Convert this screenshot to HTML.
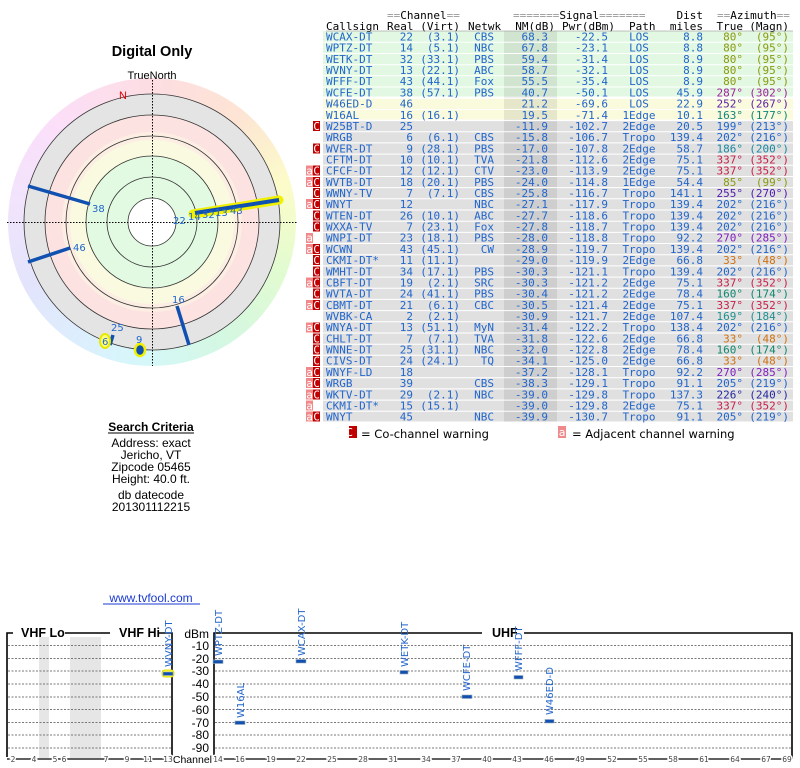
<!DOCTYPE html>
<html><head><meta charset="utf-8"><style>
html,body{margin:0;padding:0;background:#fff;width:800px;height:768px;overflow:hidden;position:relative}
#rim{position:absolute;left:8px;top:78px;width:288px;height:288px;border-radius:50%;
background:conic-gradient(from 0deg,hsl(350,90%,93%),hsl(25,90%,91%) 40deg,hsl(60,90%,89%) 75deg,hsl(95,85%,90%) 110deg,hsl(145,70%,90%) 150deg,hsl(185,80%,91%) 185deg,hsl(210,90%,93%) 215deg,hsl(240,80%,94%) 245deg,hsl(275,80%,94%) 280deg,hsl(305,80%,93%) 315deg,hsl(350,90%,93%) 360deg)}
svg{position:absolute;left:0;top:0}
.m{font-family:"DejaVu Sans Mono","Liberation Mono",monospace;font-size:11px;fill:#2266cc}
.s{font-family:"Liberation Sans",sans-serif}
.t{font-family:"DejaVu Sans",sans-serif;font-size:10px;fill:#2266cc}
.k{font-family:"DejaVu Sans",sans-serif;font-size:7.5px;fill:#444}
</style></head><body>
<div id="rim"></div>
<svg width="800" height="768" xmlns="http://www.w3.org/2000/svg">
<!-- polar -->
<circle cx="152" cy="222" r="128" fill="#e4e4e4"/>
<circle cx="152" cy="222" r="107" fill="#fde2e2"/>
<circle cx="152" cy="222" r="90" fill="#fdeee4"/>
<circle cx="152" cy="222" r="82" fill="#fafae0"/>
<circle cx="152" cy="222" r="66" fill="#e2fae2"/>
<circle cx="152" cy="222" r="24" fill="#fff"/>
<g fill="none" stroke="#333" stroke-width="0.8">
<circle cx="152" cy="222" r="128"/><circle cx="152" cy="222" r="107"/><circle cx="152" cy="222" r="86"/>
<circle cx="152" cy="222" r="66"/><circle cx="152" cy="222" r="45"/><circle cx="152" cy="222" r="24"/>
</g>
<g stroke="#000" stroke-width="1" stroke-dasharray="1.5,1.5">
<line x1="7" y1="222.5" x2="297" y2="222.5"/><line x1="152.5" y1="80" x2="152.5" y2="366"/>
</g>
<text x="152" y="56" text-anchor="middle" class="s" font-size="14.5" font-weight="bold">Digital Only</text>
<text x="152" y="79" text-anchor="middle" class="s" font-size="11">TrueNorth</text>
<text x="123" y="99" text-anchor="middle" class="s" font-size="11" fill="#d00">N</text>
<g stroke="#1050b0" stroke-width="3.5">
<line x1="28" y1="186" x2="90" y2="204"/>
<line x1="28" y1="262" x2="70" y2="248"/>
<line x1="177" y1="306" x2="189" y2="345"/>
<line x1="113" y1="335" x2="110" y2="345"/>
</g>
<line x1="193" y1="214" x2="279" y2="200" stroke="#f0f000" stroke-width="9" stroke-linecap="round"/>
<line x1="195" y1="213" x2="279" y2="200" stroke="#1050b0" stroke-width="4"/>
<ellipse cx="105" cy="341" rx="5" ry="7" fill="#ffff80" stroke="#e8e800" stroke-width="2"/>
<ellipse cx="140" cy="350" rx="5" ry="6" fill="#1050b0" stroke="#f0f000" stroke-width="2.5"/>
<g class="t" font-size="11">
<text x="92" y="212">38</text><text x="73" y="251">46</text><text x="172" y="303">16</text>
<text x="111" y="331">25</text><text x="102" y="345">6</text><text x="136" y="343">9</text>
<text x="173" y="224">22</text><text x="188" y="220">14</text><text x="202" y="218">32</text>
<text x="215" y="216">13</text><text x="230" y="214">43</text>
</g>
<!-- search criteria -->
<g class="s" font-size="12" text-anchor="middle">
<text x="151" y="431" font-weight="bold">Search Criteria</text>
<line x1="108" y1="433" x2="194" y2="433" stroke="#000" stroke-width="1"/>
<text x="151" y="425" dy="0" display="none"></text>
<text x="151" y="447">Address: exact</text>
<text x="151" y="459">Jericho, VT</text>
<text x="151" y="471">Zipcode 05465</text>
<text x="151" y="483">Height: 40.0 ft.</text>
<text x="151" y="499">db datecode</text>
<text x="151" y="511">201301112215</text>
<text x="151" y="602" fill="#1a3ad0">www.tvfool.com</text>
<line x1="103" y1="604" x2="200" y2="604" stroke="#1a3ad0" stroke-width="1"/>
</g>
<!-- table backgrounds -->
<g>
<rect x="323" y="31" width="470" height="65.5" fill="#e2f8e2"/>
<rect x="323" y="98" width="470" height="21.5" fill="#fafadc"/>
<rect x="323" y="120.5" width="470" height="301" fill="#e0e0e0"/>
<rect x="504" y="31" width="53" height="390.5" fill="rgba(0,0,0,0.08)"/>
<g stroke="#fff" stroke-width="1">
<line x1="323" y1="42.3" x2="793" y2="42.3"/><line x1="323" y1="53.5" x2="793" y2="53.5"/><line x1="323" y1="64.7" x2="793" y2="64.7"/><line x1="323" y1="75.8" x2="793" y2="75.8"/><line x1="323" y1="87" x2="793" y2="87"/><line x1="323" y1="98.2" x2="793" y2="98.2"/><line x1="323" y1="109.4" x2="793" y2="109.4"/><line x1="323" y1="120.6" x2="793" y2="120.6"/><line x1="323" y1="131.7" x2="793" y2="131.7"/><line x1="323" y1="142.9" x2="793" y2="142.9"/><line x1="323" y1="154.1" x2="793" y2="154.1"/><line x1="323" y1="165.3" x2="793" y2="165.3"/><line x1="323" y1="176.5" x2="793" y2="176.5"/><line x1="323" y1="187.6" x2="793" y2="187.6"/><line x1="323" y1="198.8" x2="793" y2="198.8"/><line x1="323" y1="210" x2="793" y2="210"/><line x1="323" y1="221.2" x2="793" y2="221.2"/><line x1="323" y1="232.4" x2="793" y2="232.4"/><line x1="323" y1="243.5" x2="793" y2="243.5"/><line x1="323" y1="254.7" x2="793" y2="254.7"/><line x1="323" y1="265.9" x2="793" y2="265.9"/><line x1="323" y1="277.1" x2="793" y2="277.1"/><line x1="323" y1="288.3" x2="793" y2="288.3"/><line x1="323" y1="299.4" x2="793" y2="299.4"/><line x1="323" y1="310.6" x2="793" y2="310.6"/><line x1="323" y1="321.8" x2="793" y2="321.8"/><line x1="323" y1="333" x2="793" y2="333"/><line x1="323" y1="344.2" x2="793" y2="344.2"/><line x1="323" y1="355.3" x2="793" y2="355.3"/><line x1="323" y1="366.5" x2="793" y2="366.5"/><line x1="323" y1="377.7" x2="793" y2="377.7"/><line x1="323" y1="388.9" x2="793" y2="388.9"/><line x1="323" y1="400.1" x2="793" y2="400.1"/><line x1="323" y1="411.2" x2="793" y2="411.2"/>
</g>
</g>
<!-- headers -->
<g class="m" fill="#000" style="fill:#000">
<text x="387" y="19" fill="#aaa" style="fill:#999">==<tspan style="fill:#000">Channel</tspan>==</text>
<text x="513" y="19" style="fill:#999">=======<tspan style="fill:#000">Signal</tspan>=======</text>
<text x="703" y="19" text-anchor="end">Dist</text>
<text x="717" y="19" style="fill:#999">==<tspan style="fill:#000">Azimuth</tspan>==</text>
<text x="326" y="30">Callsign</text><text x="387" y="30">Real</text><text x="460" y="30" text-anchor="end">(Virt)</text>
<text x="468" y="30">Netwk</text><text x="555" y="30" text-anchor="end">NM(dB)</text><text x="615" y="30" text-anchor="end">Pwr(dBm)</text>
<text x="629" y="30">Path</text><text x="703" y="30" text-anchor="end">miles</text><text x="743" y="30" text-anchor="end">True</text><text x="789" y="30" text-anchor="end">(Magn)</text>
</g>
<line x1="326" y1="31" x2="793" y2="31" stroke="#888" stroke-width="0.6"/>
<!-- columns -->
<text class="m"><tspan x="326" y="40.5">WCAX-DT</tspan><tspan x="326" y="51.7">WPTZ-DT</tspan><tspan x="326" y="62.9">WETK-DT</tspan><tspan x="326" y="74">WVNY-DT</tspan><tspan x="326" y="85.2">WFFF-DT</tspan><tspan x="326" y="96.4">WCFE-DT</tspan><tspan x="326" y="107.6">W46ED-D</tspan><tspan x="326" y="118.8">W16AL</tspan><tspan x="326" y="129.9">W25BT-D</tspan><tspan x="326" y="141.1">WRGB</tspan><tspan x="326" y="152.3">WVER-DT</tspan><tspan x="326" y="163.5">CFTM-DT</tspan><tspan x="326" y="174.7">CFCF-DT</tspan><tspan x="326" y="185.8">WVTB-DT</tspan><tspan x="326" y="197">WWNY-TV</tspan><tspan x="326" y="208.2">WNYT</tspan><tspan x="326" y="219.4">WTEN-DT</tspan><tspan x="326" y="230.6">WXXA-TV</tspan><tspan x="326" y="241.7">WNPI-DT</tspan><tspan x="326" y="252.9">WCWN</tspan><tspan x="326" y="264.1">CKMI-DT*</tspan><tspan x="326" y="275.3">WMHT-DT</tspan><tspan x="326" y="286.5">CBFT-DT</tspan><tspan x="326" y="297.6">WVTA-DT</tspan><tspan x="326" y="308.8">CBMT-DT</tspan><tspan x="326" y="320">WVBK-CA</tspan><tspan x="326" y="331.2">WNYA-DT</tspan><tspan x="326" y="342.4">CHLT-DT</tspan><tspan x="326" y="353.5">WNNE-DT</tspan><tspan x="326" y="364.7">CIVS-DT</tspan><tspan x="326" y="375.9">WNYF-LD</tspan><tspan x="326" y="387.1">WRGB</tspan><tspan x="326" y="398.3">WKTV-DT</tspan><tspan x="326" y="409.4">CKMI-DT*</tspan><tspan x="326" y="420.6">WNYT</tspan></text>
<text class="m" text-anchor="end"><tspan x="413" y="40.5">22</tspan><tspan x="413" y="51.7">14</tspan><tspan x="413" y="62.9">32</tspan><tspan x="413" y="74">13</tspan><tspan x="413" y="85.2">43</tspan><tspan x="413" y="96.4">38</tspan><tspan x="413" y="107.6">46</tspan><tspan x="413" y="118.8">16</tspan><tspan x="413" y="129.9">25</tspan><tspan x="413" y="141.1">6</tspan><tspan x="413" y="152.3">9</tspan><tspan x="413" y="163.5">10</tspan><tspan x="413" y="174.7">12</tspan><tspan x="413" y="185.8">18</tspan><tspan x="413" y="197">7</tspan><tspan x="413" y="208.2">12</tspan><tspan x="413" y="219.4">26</tspan><tspan x="413" y="230.6">7</tspan><tspan x="413" y="241.7">23</tspan><tspan x="413" y="252.9">43</tspan><tspan x="413" y="264.1">11</tspan><tspan x="413" y="275.3">34</tspan><tspan x="413" y="286.5">19</tspan><tspan x="413" y="297.6">24</tspan><tspan x="413" y="308.8">21</tspan><tspan x="413" y="320">2</tspan><tspan x="413" y="331.2">13</tspan><tspan x="413" y="342.4">7</tspan><tspan x="413" y="353.5">25</tspan><tspan x="413" y="364.7">24</tspan><tspan x="413" y="375.9">18</tspan><tspan x="413" y="387.1">39</tspan><tspan x="413" y="398.3">29</tspan><tspan x="413" y="409.4">15</tspan><tspan x="413" y="420.6">45</tspan></text>
<text class="m" text-anchor="end"><tspan x="460" y="40.5">(3.1)</tspan><tspan x="460" y="51.7">(5.1)</tspan><tspan x="460" y="62.9">(33.1)</tspan><tspan x="460" y="74">(22.1)</tspan><tspan x="460" y="85.2">(44.1)</tspan><tspan x="460" y="96.4">(57.1)</tspan><tspan x="460" y="118.8">(16.1)</tspan><tspan x="460" y="141.1">(6.1)</tspan><tspan x="460" y="152.3">(28.1)</tspan><tspan x="460" y="163.5">(10.1)</tspan><tspan x="460" y="174.7">(12.1)</tspan><tspan x="460" y="185.8">(20.1)</tspan><tspan x="460" y="197">(7.1)</tspan><tspan x="460" y="219.4">(10.1)</tspan><tspan x="460" y="230.6">(23.1)</tspan><tspan x="460" y="241.7">(18.1)</tspan><tspan x="460" y="252.9">(45.1)</tspan><tspan x="460" y="264.1">(11.1)</tspan><tspan x="460" y="275.3">(17.1)</tspan><tspan x="460" y="286.5">(2.1)</tspan><tspan x="460" y="297.6">(41.1)</tspan><tspan x="460" y="308.8">(6.1)</tspan><tspan x="460" y="320">(2.1)</tspan><tspan x="460" y="331.2">(51.1)</tspan><tspan x="460" y="342.4">(7.1)</tspan><tspan x="460" y="353.5">(31.1)</tspan><tspan x="460" y="364.7">(24.1)</tspan><tspan x="460" y="398.3">(2.1)</tspan><tspan x="460" y="409.4">(15.1)</tspan></text>
<text class="m" text-anchor="end"><tspan x="494" y="40.5">CBS</tspan><tspan x="494" y="51.7">NBC</tspan><tspan x="494" y="62.9">PBS</tspan><tspan x="494" y="74">ABC</tspan><tspan x="494" y="85.2">Fox</tspan><tspan x="494" y="96.4">PBS</tspan><tspan x="494" y="141.1">CBS</tspan><tspan x="494" y="152.3">PBS</tspan><tspan x="494" y="163.5">TVA</tspan><tspan x="494" y="174.7">CTV</tspan><tspan x="494" y="185.8">PBS</tspan><tspan x="494" y="197">CBS</tspan><tspan x="494" y="208.2">NBC</tspan><tspan x="494" y="219.4">ABC</tspan><tspan x="494" y="230.6">Fox</tspan><tspan x="494" y="241.7">PBS</tspan><tspan x="494" y="252.9">CW</tspan><tspan x="494" y="275.3">PBS</tspan><tspan x="494" y="286.5">SRC</tspan><tspan x="494" y="297.6">PBS</tspan><tspan x="494" y="308.8">CBC</tspan><tspan x="494" y="331.2">MyN</tspan><tspan x="494" y="342.4">TVA</tspan><tspan x="494" y="353.5">NBC</tspan><tspan x="494" y="364.7">TQ</tspan><tspan x="494" y="387.1">CBS</tspan><tspan x="494" y="398.3">NBC</tspan><tspan x="494" y="420.6">NBC</tspan></text>
<text class="m" text-anchor="end"><tspan x="548" y="40.5">68.3</tspan><tspan x="548" y="51.7">67.8</tspan><tspan x="548" y="62.9">59.4</tspan><tspan x="548" y="74">58.7</tspan><tspan x="548" y="85.2">55.5</tspan><tspan x="548" y="96.4">40.7</tspan><tspan x="548" y="107.6">21.2</tspan><tspan x="548" y="118.8">19.5</tspan><tspan x="548" y="129.9">-11.9</tspan><tspan x="548" y="141.1">-15.8</tspan><tspan x="548" y="152.3">-17.0</tspan><tspan x="548" y="163.5">-21.8</tspan><tspan x="548" y="174.7">-23.0</tspan><tspan x="548" y="185.8">-24.0</tspan><tspan x="548" y="197">-25.8</tspan><tspan x="548" y="208.2">-27.1</tspan><tspan x="548" y="219.4">-27.7</tspan><tspan x="548" y="230.6">-27.8</tspan><tspan x="548" y="241.7">-28.0</tspan><tspan x="548" y="252.9">-28.9</tspan><tspan x="548" y="264.1">-29.0</tspan><tspan x="548" y="275.3">-30.3</tspan><tspan x="548" y="286.5">-30.3</tspan><tspan x="548" y="297.6">-30.4</tspan><tspan x="548" y="308.8">-30.5</tspan><tspan x="548" y="320">-30.9</tspan><tspan x="548" y="331.2">-31.4</tspan><tspan x="548" y="342.4">-31.8</tspan><tspan x="548" y="353.5">-32.0</tspan><tspan x="548" y="364.7">-34.1</tspan><tspan x="548" y="375.9">-37.2</tspan><tspan x="548" y="387.1">-38.3</tspan><tspan x="548" y="398.3">-39.0</tspan><tspan x="548" y="409.4">-39.0</tspan><tspan x="548" y="420.6">-39.9</tspan></text>
<text class="m" text-anchor="end"><tspan x="608" y="40.5">-22.5</tspan><tspan x="608" y="51.7">-23.1</tspan><tspan x="608" y="62.9">-31.4</tspan><tspan x="608" y="74">-32.1</tspan><tspan x="608" y="85.2">-35.4</tspan><tspan x="608" y="96.4">-50.1</tspan><tspan x="608" y="107.6">-69.6</tspan><tspan x="608" y="118.8">-71.4</tspan><tspan x="608" y="129.9">-102.7</tspan><tspan x="608" y="141.1">-106.7</tspan><tspan x="608" y="152.3">-107.8</tspan><tspan x="608" y="163.5">-112.6</tspan><tspan x="608" y="174.7">-113.9</tspan><tspan x="608" y="185.8">-114.8</tspan><tspan x="608" y="197">-116.7</tspan><tspan x="608" y="208.2">-117.9</tspan><tspan x="608" y="219.4">-118.6</tspan><tspan x="608" y="230.6">-118.7</tspan><tspan x="608" y="241.7">-118.8</tspan><tspan x="608" y="252.9">-119.7</tspan><tspan x="608" y="264.1">-119.9</tspan><tspan x="608" y="275.3">-121.1</tspan><tspan x="608" y="286.5">-121.2</tspan><tspan x="608" y="297.6">-121.2</tspan><tspan x="608" y="308.8">-121.4</tspan><tspan x="608" y="320">-121.7</tspan><tspan x="608" y="331.2">-122.2</tspan><tspan x="608" y="342.4">-122.6</tspan><tspan x="608" y="353.5">-122.8</tspan><tspan x="608" y="364.7">-125.0</tspan><tspan x="608" y="375.9">-128.1</tspan><tspan x="608" y="387.1">-129.1</tspan><tspan x="608" y="398.3">-129.8</tspan><tspan x="608" y="409.4">-129.8</tspan><tspan x="608" y="420.6">-130.7</tspan></text>
<text class="m" text-anchor="middle"><tspan x="639" y="40.5">LOS</tspan><tspan x="639" y="51.7">LOS</tspan><tspan x="639" y="62.9">LOS</tspan><tspan x="639" y="74">LOS</tspan><tspan x="639" y="85.2">LOS</tspan><tspan x="639" y="96.4">LOS</tspan><tspan x="639" y="107.6">LOS</tspan><tspan x="639" y="118.8">1Edge</tspan><tspan x="639" y="129.9">2Edge</tspan><tspan x="639" y="141.1">Tropo</tspan><tspan x="639" y="152.3">2Edge</tspan><tspan x="639" y="163.5">2Edge</tspan><tspan x="639" y="174.7">2Edge</tspan><tspan x="639" y="185.8">1Edge</tspan><tspan x="639" y="197">Tropo</tspan><tspan x="639" y="208.2">Tropo</tspan><tspan x="639" y="219.4">Tropo</tspan><tspan x="639" y="230.6">Tropo</tspan><tspan x="639" y="241.7">Tropo</tspan><tspan x="639" y="252.9">Tropo</tspan><tspan x="639" y="264.1">2Edge</tspan><tspan x="639" y="275.3">Tropo</tspan><tspan x="639" y="286.5">2Edge</tspan><tspan x="639" y="297.6">2Edge</tspan><tspan x="639" y="308.8">2Edge</tspan><tspan x="639" y="320">2Edge</tspan><tspan x="639" y="331.2">Tropo</tspan><tspan x="639" y="342.4">2Edge</tspan><tspan x="639" y="353.5">2Edge</tspan><tspan x="639" y="364.7">2Edge</tspan><tspan x="639" y="375.9">Tropo</tspan><tspan x="639" y="387.1">Tropo</tspan><tspan x="639" y="398.3">Tropo</tspan><tspan x="639" y="409.4">2Edge</tspan><tspan x="639" y="420.6">Tropo</tspan></text>
<text class="m" text-anchor="end"><tspan x="703" y="40.5">8.8</tspan><tspan x="703" y="51.7">8.8</tspan><tspan x="703" y="62.9">8.9</tspan><tspan x="703" y="74">8.9</tspan><tspan x="703" y="85.2">8.9</tspan><tspan x="703" y="96.4">45.9</tspan><tspan x="703" y="107.6">22.9</tspan><tspan x="703" y="118.8">10.1</tspan><tspan x="703" y="129.9">20.5</tspan><tspan x="703" y="141.1">139.4</tspan><tspan x="703" y="152.3">58.7</tspan><tspan x="703" y="163.5">75.1</tspan><tspan x="703" y="174.7">75.1</tspan><tspan x="703" y="185.8">54.4</tspan><tspan x="703" y="197">141.1</tspan><tspan x="703" y="208.2">139.4</tspan><tspan x="703" y="219.4">139.4</tspan><tspan x="703" y="230.6">139.4</tspan><tspan x="703" y="241.7">92.2</tspan><tspan x="703" y="252.9">139.4</tspan><tspan x="703" y="264.1">66.8</tspan><tspan x="703" y="275.3">139.4</tspan><tspan x="703" y="286.5">75.1</tspan><tspan x="703" y="297.6">78.4</tspan><tspan x="703" y="308.8">75.1</tspan><tspan x="703" y="320">107.4</tspan><tspan x="703" y="331.2">138.4</tspan><tspan x="703" y="342.4">66.8</tspan><tspan x="703" y="353.5">78.4</tspan><tspan x="703" y="364.7">66.8</tspan><tspan x="703" y="375.9">92.2</tspan><tspan x="703" y="387.1">91.1</tspan><tspan x="703" y="398.3">137.3</tspan><tspan x="703" y="409.4">75.1</tspan><tspan x="703" y="420.6">91.1</tspan></text>
<text class="m" text-anchor="end"><tspan x="743" y="40.5" fill="#8a9a10">80°</tspan><tspan x="743" y="51.7" fill="#8a9a10">80°</tspan><tspan x="743" y="62.9" fill="#8a9a10">80°</tspan><tspan x="743" y="74" fill="#8a9a10">80°</tspan><tspan x="743" y="85.2" fill="#8a9a10">80°</tspan><tspan x="743" y="96.4" fill="#a0209a">287°</tspan><tspan x="743" y="107.6" fill="#5a20a8">252°</tspan><tspan x="743" y="118.8" fill="#108878">163°</tspan><tspan x="743" y="129.9">199°</tspan><tspan x="743" y="141.1">202°</tspan><tspan x="743" y="152.3" fill="#1a88a0">186°</tspan><tspan x="743" y="163.5" fill="#c8204a">337°</tspan><tspan x="743" y="174.7" fill="#c8204a">337°</tspan><tspan x="743" y="185.8" fill="#8a9a10">85°</tspan><tspan x="743" y="197" fill="#5018b0">255°</tspan><tspan x="743" y="208.2">202°</tspan><tspan x="743" y="219.4">202°</tspan><tspan x="743" y="230.6">202°</tspan><tspan x="743" y="241.7" fill="#8020c0">270°</tspan><tspan x="743" y="252.9">202°</tspan><tspan x="743" y="264.1" fill="#d07010">33°</tspan><tspan x="743" y="275.3">202°</tspan><tspan x="743" y="286.5" fill="#c8204a">337°</tspan><tspan x="743" y="297.6" fill="#108870">160°</tspan><tspan x="743" y="308.8" fill="#c8204a">337°</tspan><tspan x="743" y="320" fill="#209090">169°</tspan><tspan x="743" y="331.2">202°</tspan><tspan x="743" y="342.4" fill="#d07010">33°</tspan><tspan x="743" y="353.5" fill="#108870">160°</tspan><tspan x="743" y="364.7" fill="#d07010">33°</tspan><tspan x="743" y="375.9" fill="#8020c0">270°</tspan><tspan x="743" y="387.1">205°</tspan><tspan x="743" y="398.3" fill="#2828a0">226°</tspan><tspan x="743" y="409.4" fill="#c8204a">337°</tspan><tspan x="743" y="420.6">205°</tspan></text>
<text class="m" text-anchor="end"><tspan x="789" y="40.5" fill="#8a9a10">(95°)</tspan><tspan x="789" y="51.7" fill="#8a9a10">(95°)</tspan><tspan x="789" y="62.9" fill="#8a9a10">(95°)</tspan><tspan x="789" y="74" fill="#8a9a10">(95°)</tspan><tspan x="789" y="85.2" fill="#8a9a10">(95°)</tspan><tspan x="789" y="96.4" fill="#a0209a">(302°)</tspan><tspan x="789" y="107.6" fill="#5a20a8">(267°)</tspan><tspan x="789" y="118.8" fill="#108878">(177°)</tspan><tspan x="789" y="129.9">(213°)</tspan><tspan x="789" y="141.1">(216°)</tspan><tspan x="789" y="152.3" fill="#1a88a0">(200°)</tspan><tspan x="789" y="163.5" fill="#c8204a">(352°)</tspan><tspan x="789" y="174.7" fill="#c8204a">(352°)</tspan><tspan x="789" y="185.8" fill="#8a9a10">(99°)</tspan><tspan x="789" y="197" fill="#5018b0">(270°)</tspan><tspan x="789" y="208.2">(216°)</tspan><tspan x="789" y="219.4">(216°)</tspan><tspan x="789" y="230.6">(216°)</tspan><tspan x="789" y="241.7" fill="#8020c0">(285°)</tspan><tspan x="789" y="252.9">(216°)</tspan><tspan x="789" y="264.1" fill="#d07010">(48°)</tspan><tspan x="789" y="275.3">(216°)</tspan><tspan x="789" y="286.5" fill="#c8204a">(352°)</tspan><tspan x="789" y="297.6" fill="#108870">(174°)</tspan><tspan x="789" y="308.8" fill="#c8204a">(352°)</tspan><tspan x="789" y="320" fill="#209090">(184°)</tspan><tspan x="789" y="331.2">(216°)</tspan><tspan x="789" y="342.4" fill="#d07010">(48°)</tspan><tspan x="789" y="353.5" fill="#108870">(174°)</tspan><tspan x="789" y="364.7" fill="#d07010">(48°)</tspan><tspan x="789" y="375.9" fill="#8020c0">(285°)</tspan><tspan x="789" y="387.1">(219°)</tspan><tspan x="789" y="398.3" fill="#2828a0">(240°)</tspan><tspan x="789" y="409.4" fill="#c8204a">(352°)</tspan><tspan x="789" y="420.6">(219°)</tspan></text>
<!-- warnings -->
<g fill="#c00000">
<rect x="313" y="121" width="7" height="10"/><rect x="313" y="143.5" width="7" height="10"/><rect x="313" y="165.5" width="7" height="10"/><rect x="313" y="177" width="7" height="10"/><rect x="313" y="188" width="7" height="10"/><rect x="313" y="199" width="7" height="10"/><rect x="313" y="210.5" width="7" height="10"/><rect x="313" y="221.5" width="7" height="10"/><rect x="313" y="244" width="7" height="10"/><rect x="313" y="255" width="7" height="10"/><rect x="313" y="266.5" width="7" height="10"/><rect x="313" y="277.5" width="7" height="10"/><rect x="313" y="288.5" width="7" height="10"/><rect x="313" y="300" width="7" height="10"/><rect x="313" y="322.5" width="7" height="10"/><rect x="313" y="333.5" width="7" height="10"/><rect x="313" y="344.5" width="7" height="10"/><rect x="313" y="356" width="7" height="10"/><rect x="313" y="367" width="7" height="10"/><rect x="313" y="378" width="7" height="10"/><rect x="313" y="389.5" width="7" height="10"/><rect x="313" y="411.5" width="7" height="10"/>
<rect x="349" y="426" width="8" height="12"/>
</g>
<g fill="#f08a8a">
<rect x="306" y="165.5" width="7" height="10"/><rect x="306" y="177" width="7" height="10"/><rect x="306" y="199" width="7" height="10"/><rect x="306" y="233" width="7" height="10"/><rect x="306" y="244" width="7" height="10"/><rect x="306" y="277.5" width="7" height="10"/><rect x="306" y="300" width="7" height="10"/><rect x="306" y="322.5" width="7" height="10"/><rect x="306" y="367" width="7" height="10"/><rect x="306" y="378" width="7" height="10"/><rect x="306" y="389.5" width="7" height="10"/><rect x="306" y="400.5" width="7" height="10"/><rect x="306" y="411.5" width="7" height="10"/>
<rect x="558" y="426" width="8" height="12"/>
</g>
<text class="m" font-size="10" style="fill:#fff" text-anchor="middle"><tspan x="316.5" y="129.9">C</tspan><tspan x="316.5" y="152.3">C</tspan><tspan x="316.5" y="174.7">C</tspan><tspan x="316.5" y="185.8">C</tspan><tspan x="316.5" y="197">C</tspan><tspan x="316.5" y="208.2">C</tspan><tspan x="316.5" y="219.4">C</tspan><tspan x="316.5" y="230.6">C</tspan><tspan x="316.5" y="252.9">C</tspan><tspan x="316.5" y="264.1">C</tspan><tspan x="316.5" y="275.3">C</tspan><tspan x="316.5" y="286.5">C</tspan><tspan x="316.5" y="297.6">C</tspan><tspan x="316.5" y="308.8">C</tspan><tspan x="316.5" y="331.2">C</tspan><tspan x="316.5" y="342.4">C</tspan><tspan x="316.5" y="353.5">C</tspan><tspan x="316.5" y="364.7">C</tspan><tspan x="316.5" y="375.9">C</tspan><tspan x="316.5" y="387.1">C</tspan><tspan x="316.5" y="398.3">C</tspan><tspan x="316.5" y="420.6">C</tspan><tspan x="353" y="436">C</tspan>
<tspan x="309.5" y="174.7">a</tspan><tspan x="309.5" y="185.8">a</tspan><tspan x="309.5" y="208.2">a</tspan><tspan x="309.5" y="241.7">a</tspan><tspan x="309.5" y="252.9">a</tspan><tspan x="309.5" y="286.5">a</tspan><tspan x="309.5" y="308.8">a</tspan><tspan x="309.5" y="331.2">a</tspan><tspan x="309.5" y="375.9">a</tspan><tspan x="309.5" y="387.1">a</tspan><tspan x="309.5" y="398.3">a</tspan><tspan x="309.5" y="409.4">a</tspan><tspan x="309.5" y="420.6">a</tspan><tspan x="562" y="436">a</tspan></text>
<text x="361" y="438" class="s" font-size="12" style="font-family:'DejaVu Sans',sans-serif;font-size:11.5px">= Co-channel warning</text>
<text x="572" y="438" class="s" style="font-family:'DejaVu Sans',sans-serif;font-size:11.5px">= Adjacent channel warning</text>
<!-- bottom chart -->
<rect x="39" y="637" width="10" height="121" fill="#e6e6e6"/>
<rect x="70" y="637" width="31" height="121" fill="#e6e6e6"/>
<g stroke="#777" stroke-width="1" stroke-dasharray="2,1.5">
<path d="M8 645.5H171M8 658.5H171M8 671H171M8 684H171M8 697H171M8 709.5H171M8 722.5H171M8 735H171M8 748H171"/>
<path d="M215 645.5H791M215 658.5H791M215 671H791M215 684H791M215 697H791M215 709.5H791M215 722.5H791M215 735H791M215 748H791"/>
</g>
<g stroke="#000" stroke-width="1.6" fill="none">
<path d="M7 757V633H13M65 633H110M159 633H172V759"/>
<path d="M214 759V633H482M524 633H792V759"/>
<path d="M7 759H172M214 759H792" stroke-width="1.2"/>
</g>
<g class="s" font-weight="bold" font-size="12.5">
<text x="21" y="637">VHF Lo</text><text x="119" y="637">VHF Hi</text><text x="492" y="637">UHF</text>
</g>
<g class="s" font-size="12" text-anchor="end">
<text x="209" y="638">dBm</text><text x="209" y="650">-10</text><text x="209" y="663">-20</text><text x="209" y="675">-30</text><text x="209" y="688">-40</text><text x="209" y="701">-50</text><text x="209" y="714">-60</text><text x="209" y="727">-70</text><text x="209" y="739">-80</text><text x="209" y="752">-90</text>
<text x="212" y="763" font-size="10.5">Channel</text>
</g>
<g class="k" text-anchor="middle" style="paint-order:stroke" stroke="#fff" stroke-width="3">
<text x="13" y="762">2</text><text x="34" y="762">4</text><text x="55" y="762">5</text><text x="64" y="762">6</text><text x="106" y="762">7</text><text x="127" y="762">9</text><text x="148" y="762">11</text><text x="168" y="762">13</text>
<text x="218" y="762">14</text><text x="240" y="762">16</text><text x="271" y="762">19</text><text x="301" y="762">22</text><text x="332" y="762">25</text><text x="363" y="762">28</text><text x="393" y="762">31</text><text x="426" y="762">34</text><text x="456" y="762">37</text><text x="487" y="762">40</text><text x="517" y="762">43</text><text x="549" y="762">46</text><text x="580" y="762">49</text><text x="612" y="762">52</text><text x="643" y="762">55</text><text x="673" y="762">58</text><text x="704" y="762">61</text><text x="735" y="762">64</text><text x="766" y="762">67</text><text x="787" y="762">69</text>
</g>
<rect x="162" y="670" width="12" height="7" rx="3" fill="#ffff40" stroke="#e0e000"/>
<g fill="#1050b0" stroke="#9ab" stroke-width="0.6">
<rect x="163" y="672" width="10" height="3.5"/>
<rect x="213" y="660" width="10" height="3.5"/>
<rect x="296" y="659.5" width="10" height="3.5"/>
<rect x="235" y="721" width="10" height="3.5"/>
<rect x="400" y="670.5" width="8" height="3.5"/>
<rect x="462" y="695" width="10" height="3.5"/>
<rect x="514" y="675.5" width="9" height="3.5"/>
<rect x="545" y="719.5" width="9" height="3.5"/>
</g>
<g class="t">
<text transform="translate(172,667) rotate(-90)">WVNY-DT</text>
<text transform="translate(222,656) rotate(-90)">WPTZ-DT</text>
<text transform="translate(305,656) rotate(-90)">WCAX-DT</text>
<text transform="translate(244,718) rotate(-90)">W16AL</text>
<text transform="translate(408,667) rotate(-90)">WETK-DT</text>
<text transform="translate(470,691) rotate(-90)">WCFE-DT</text>
<text transform="translate(522,671) rotate(-90)">WFFF-DT</text>
<text transform="translate(553,715) rotate(-90)">W46ED-D</text>
</g>
</svg>
</body></html>
